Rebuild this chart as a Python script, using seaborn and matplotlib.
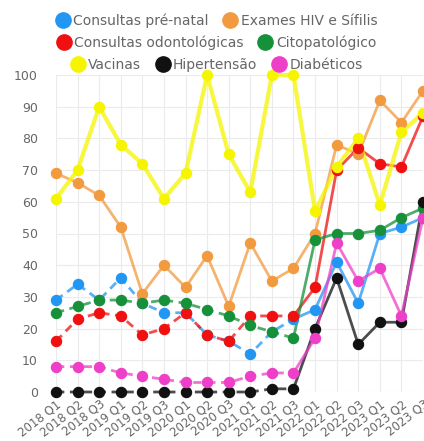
import pandas as pd
import matplotlib.pyplot as plt
import seaborn as sns
from matplotlib.lines import Line2D

# Quadrimestres
periods = ["2018 Q1", "2018 Q2", "2018 Q3", "2019 Q1", "2019 Q2", "2019 Q3",
           "2020 Q1", "2020 Q2", "2020 Q3", "2021 Q1", "2021 Q2", "2021 Q3",
           "2022 Q1", "2022 Q2", "2022 Q3", "2023 Q1", "2023 Q2", "2023 Q3"]

pre_natal = [29, 34, 29, 36, 28, 25, 25, 18, 16, 12, 19, 23, 26, 41, 28, 50, 52, 55]
hiv_sifilis = [69, 66, 62, 52, 31, 40, 33, 43, 27, 47, 35, 39, 50, 78, 75, 92, 85, 95]
odontologicas = [16, 23, 25, 24, 18, 20, 25, 18, 16, 24, 24, 24, 33, 70, 77, 72, 71, 87]
citopatologico = [25, 27, 29, 29, 28, 29, 28, 26, 24, 21, 19, 17, 48, 50, 50, 51, 55, 58]
vacinas = [61, 70, 90, 78, 72, 61, 69, 100, 75, 63, 100, 100, 57, 71, 80, 59, 82, 88]
hipertensao = [0, 0, 0, 0, 0, 0, 0, 0, 0, 0, 1, 1, 20, 36, 15, 22, 22, 60]
diabeticos = [8, 8, 8, 6, 5, 4, 3, 3, 3, 5, 6, 6, 17, 47, 35, 39, 24, 55]

series = [
    ("Consultas pré-natal", pre_natal, "#2196F3", True),
    ("Exames HIV e Sífilis", hiv_sifilis, "#F29A3F", False),
    ("Consultas odontológicas", odontologicas, "#F01010", True),
    ("Citopatológico", citopatologico, "#16913A", True),
    ("Vacinas", vacinas, "#F5F500", False),
    ("Hipertensão", hipertensao, "#111111", True),
    ("Diabéticos", diabeticos, "#EE3FC8", True),
]

split = 11  # last index of the dashed part

fig = plt.figure(figsize=(4.24, 4.41), dpi=100)
ax = fig.add_axes([56 / 424, 49 / 441, 367 / 424, 317 / 441])

for name, vals, color, dashed in series:
    df = pd.DataFrame({"x": range(len(vals)), "y": vals})
    lw = 3 if name == "Vacinas" else 2
    if dashed:
        sns.lineplot(data=df.iloc[:split + 1], x="x", y="y", ax=ax, color=color,
                     linewidth=lw, alpha=0.75, linestyle=(0, (3, 2)), clip_on=False)
        sns.lineplot(data=df.iloc[split:], x="x", y="y", ax=ax, color=color,
                     linewidth=lw, alpha=0.75, clip_on=False)
    else:
        sns.lineplot(data=df, x="x", y="y", ax=ax, color=color,
                     linewidth=lw, alpha=0.75, clip_on=False)
    sns.scatterplot(data=df, x="x", y="y", ax=ax, color=color, s=55,
                    edgecolor=color, linewidth=0.8, clip_on=False, zorder=3)

ax.set_xlim(0, len(periods) - 1)
ax.set_ylim(0, 100)
ax.set_yticks(range(0, 101, 10))
ax.set_xticks(range(len(periods)))
ax.set_xticklabels(periods, rotation=38, ha="right", rotation_mode="anchor")
ax.tick_params(axis="both", length=0, colors="#666666")
ax.tick_params(axis="y", pad=13, labelsize=9)
ax.tick_params(axis="x", pad=4, labelsize=8.5)
ax.set_xlabel("")
ax.set_ylabel("")
ax.grid(True, color="#ebebeb", linewidth=0.8)
ax.set_axisbelow(True)
for s in ax.spines.values():
    s.set_visible(False)

# legend in three centred rows
rows = [[0, 1], [2, 3], [4, 5, 6]]
row_y = [1 - 21 / 441, 1 - 43 / 441, 1 - 65 / 441]
for idx, y in zip(rows, row_y):
    handles = [Line2D([], [], marker="o", linestyle="", markersize=11,
                      color=series[i][2]) for i in idx]
    labels = [series[i][0] for i in idx]
    leg = fig.legend(handles, labels, ncol=len(idx), loc="center",
                     bbox_to_anchor=(0.51, y), frameon=False, fontsize=10,
                     handletextpad=0.2, columnspacing=1.0, handlelength=1.1,
                     borderpad=0)
    for t in leg.get_texts():
        t.set_color("#666666")

fig.savefig("out.png", dpi=100)
